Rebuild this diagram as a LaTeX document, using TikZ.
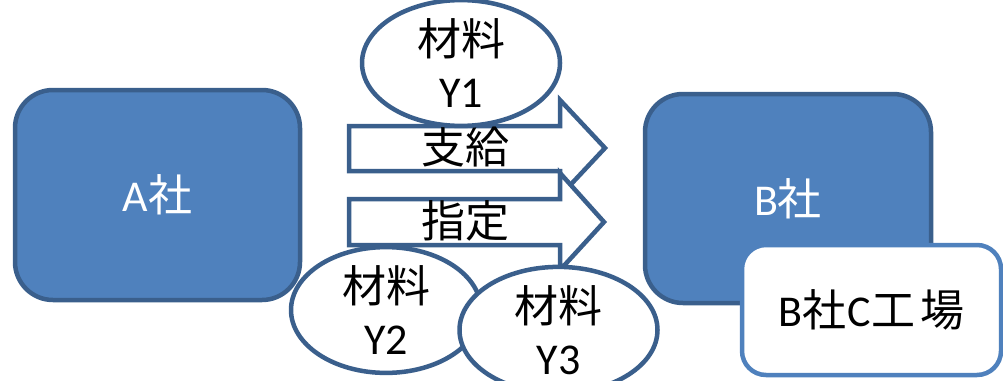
\documentclass[tikz,border=0pt]{standalone}
\usepackage{fontspec}
\setmainfont{Carlito}
\newfontfamily\jp{Noto Sans CJK JP}
\usetikzlibrary{shapes.geometric}
\definecolor{boxfill}{HTML}{4F81BD}
\definecolor{boxline}{HTML}{3A5F8C}
\tikzset{
  big/.style={font=\fontsize{44}{52}\selectfont},
  company/.style={draw=boxline, line width=4.5pt, fill=boxfill, rounded corners=38pt,
    text=white, big, inner sep=0pt},
  factory/.style={draw=boxfill, line width=4.5pt, fill=white, rounded corners=24pt,
    text=black, big, inner sep=0pt},
  material/.style={ellipse, draw=boxline, line width=4.5pt, fill=white, big,
    align=center, inner sep=0pt},
  flow/.style={draw=boxline, line width=4.5pt, fill=white, line join=miter},
  flowtext/.style={big, inner sep=0pt}
}
\begin{document}
\begin{tikzpicture}[x=1pt,y=-1pt]
\useasboundingbox (0,0) rectangle (1003,380);
\clip (0,0) rectangle (1003,380);
% company boxes
\node[company, minimum width=285pt, minimum height=210pt] (A) at (157.5,195) {A{\jp 社}};
\node[company, minimum width=286pt, minimum height=209pt] (B) at (788,198.5) {B{\jp 社}};
\node[factory, minimum width=259pt, minimum height=130pt] (C) at (871.5,310) {B{\jp 社}\hspace{1pt}C\hspace{1pt}{\jp 工\hspace{5pt}場}};
% flow arrows
\draw[flow] (349,126) -- (560,126) -- (560,100) -- (605,148) -- (560,196) -- (560,171) -- (349,171) -- cycle;
\node[flowtext] (shikyu) at (465,147) {\jp 支給};
\draw[flow] (349,199) -- (560,199) -- (560,173) -- (604,222) -- (560,270) -- (560,245) -- (349,245) -- cycle;
\node[flowtext] (shitei) at (465,221) {\jp 指定};
% materials
\node[material, minimum width=198pt, minimum height=106pt] (Y1) at (461,63) {{\jp 材料}\\Y1};
\node[material, minimum width=190pt, minimum height=110pt] (Y2) at (386,310) {{\jp 材料}\\Y2};
\node[material, minimum width=198pt, minimum height=118pt] (Y3) at (558.5,330) {{\jp 材料}\\Y3};
\end{tikzpicture}
\end{document}
